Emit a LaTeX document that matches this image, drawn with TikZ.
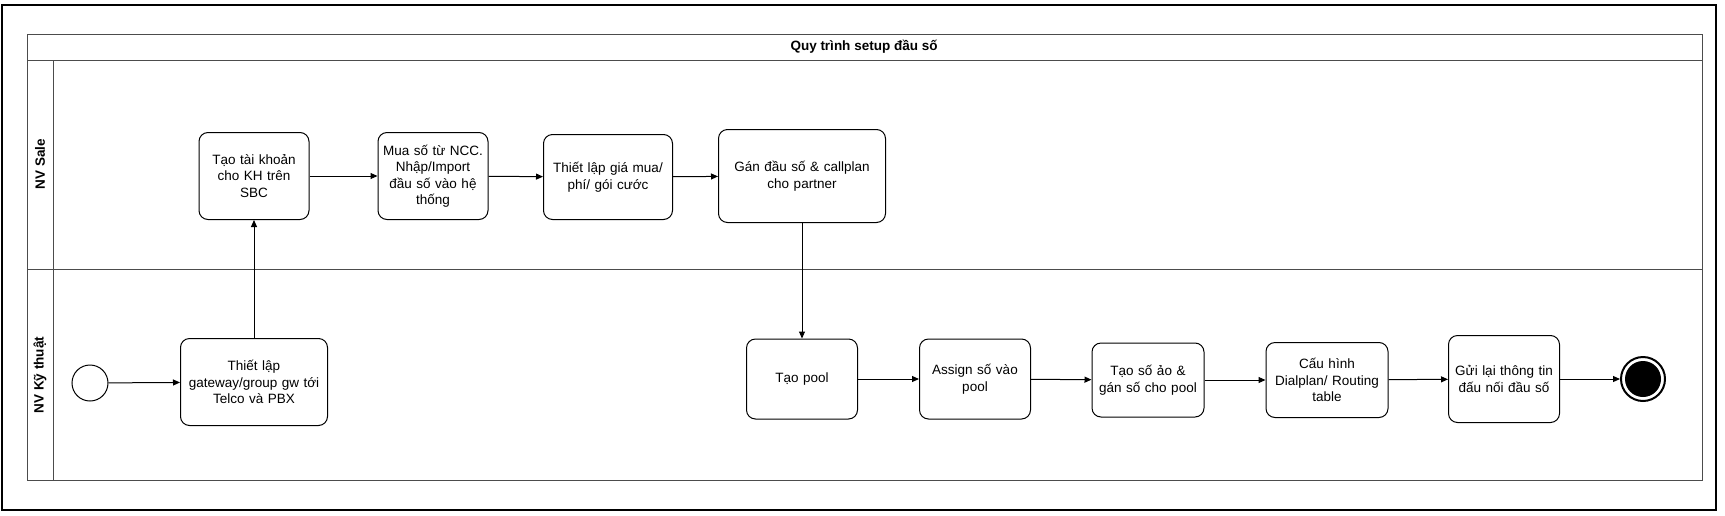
\documentclass[tikz,border=0pt]{standalone}
\usepackage{fontspec}
\setmainfont{Liberation Sans}
\usetikzlibrary{arrows.meta}
\begin{document}
\begin{tikzpicture}[x=1pt,y=-1pt,
  box/.style={draw,rounded corners=9pt,line width=1pt,align=center,font=\fontsize{13.5}{16.5}\selectfont,inner sep=1pt},
  arr/.style={-{Triangle[length=7pt,width=6pt]},line width=1pt},
  lane/.style={font=\bfseries\fontsize{13.5}{15}\selectfont,rotate=90}]
\useasboundingbox (0,0) rectangle (1725,515);
\draw[line width=2pt] (2,5) rectangle (1716,510);
\draw[line width=1pt,black!70] (27,34) rectangle (1702,480);
\draw[line width=1pt,black!70] (27,60) -- (1702,60);
\draw[line width=1pt,black!70] (27,269) -- (1702,269);
\draw[line width=1pt,black!70] (53,60) -- (53,480);
\node[font=\bfseries\fontsize{13.5}{15}\selectfont] (title) at (864,47) {Quy trình setup đầu số};
\node[lane] (l1) at (40,164) {NV Sale};
\node[lane] (l2) at (40,375) {NV Kỹ thuật};
\tikzset{bx/.style args={#1/#2/#3/#4}{box,minimum width={#3-#1},minimum height={#4-#2},text width={#3-#1-4}}}
\node[bx=199/133/309/220] (a) at (254,176) {Tạo tài khoản\\cho KH trên\\SBC};
\node[bx=378/133/488/220] (b) at (433,176) {Mua số từ NCC.\\Nhập/Import\\đầu số vào hệ\\thống};
\node[bx=544/135/673/220] (c) at (608,177) {Thiết lập giá mua/\\phí/ gói cước};
\node[bx=719/130/886/223] (d) at (802,176) {Gán đầu số \& callplan\\cho partner};
\node[bx=180/339/327/426] (g) at (254,382) {Thiết lập\\gateway/group gw tới\\Telco và PBX};
\node[bx=747/339/858/419] (p) at (802,379) {Tạo pool};
\node[bx=920/339/1031/419] (s) at (975,379) {Assign số vào\\pool};
\node[bx=1092/343/1204/417] (v) at (1148,380) {Tạo số ảo \&\\gán số cho pool};
\node[bx=1266/342/1388/417] (h) at (1327,380) {Cấu hình\\Dialplan/ Routing\\table};
\node[bx=1449/336/1560/423] (r) at (1504,379) {Gửi lại thông tin\\đấu nối đầu số};
\node[draw,circle,line width=1pt,minimum size=36pt,inner sep=0] (st) at (90,383) {};
\node[draw,circle,line width=2pt,minimum size=44pt,inner sep=0] (en) at (1643,379) {};
\fill (en) circle (18pt);
\draw[arr] (st) -- (g);
\draw[arr] (g) -- (a);
\draw[arr] (a) -- (b);
\draw[arr] (b) -- (c);
\draw[arr] (c) -- (d);
\draw[arr] (d) -- (p);
\draw[arr] (p) -- (s);
\draw[arr] (s) -- (v);
\draw[arr] (v) -- (h);
\draw[arr] (h) -- (r);
\draw[arr] (r) -- (en);
\end{tikzpicture}
\end{document}
